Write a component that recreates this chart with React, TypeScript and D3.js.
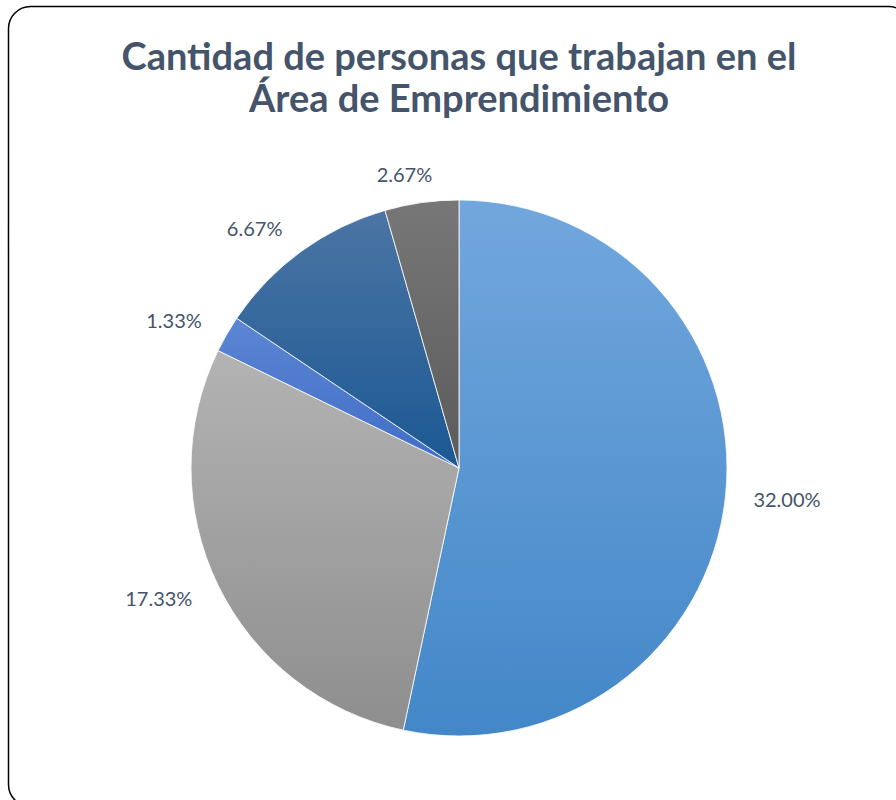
import React, { useEffect, useRef } from 'react';
import * as d3 from 'd3';

// values in reading order, clockwise from 12 o'clock
const labels = ['32.00%', '17.33%', '1.33%', '6.67%', '2.67%'];
const values = [32.0, 17.33, 1.33, 6.67, 2.67];
const topColors = ['#72a7dd', '#b3b3b3', '#5c86d4', '#4b75a4', '#777777'];
const bottomColors = ['#4387c8', '#8e8e8e', '#406dc6', '#1b5893', '#5b5b5b'];
const titleLines = ['Cantidad de personas que trabajan en el', 'Área de Emprendimiento'];

const W = 896;
const H = 800;

export default function App() {
    const ref = useRef<SVGSVGElement>(null);

    useEffect(() => {
        document.body.style.margin = '0';
        const svg = d3.select(ref.current);
        svg.selectAll('*').remove();

        const cx = 459;
        const cy = 468;
        const r = 268;
        const font = 'Lato, "Open Sans", sans-serif';
        const textColor = '#44546a';

        // frame
        svg.append('rect')
            .attr('x', 8.5)
            .attr('y', 6.5)
            .attr('width', 902)
            .attr('height', 800)
            .attr('rx', 22)
            .attr('fill', '#fff')
            .attr('stroke', '#000')
            .attr('stroke-width', 1.5);

        // title
        const title = svg.append('g');
        titleLines.forEach((t, i) => {
            title.append('text')
                .attr('x', cx)
                .attr('y', 70 + i * 42)
                .attr('text-anchor', 'middle')
                .attr('font-family', font)
                .attr('font-weight', 700)
                .attr('font-size', 38)
                .attr('fill', textColor)
                .text(t);
        });

        const defs = svg.append('defs');
        values.forEach((v, i) => {
            const g = defs.append('linearGradient')
                .attr('id', 'grad' + i)
                .attr('x1', 0).attr('y1', 0)
                .attr('x2', 0).attr('y2', 1);
            g.append('stop').attr('offset', '0%').attr('stop-color', topColors[i]);
            g.append('stop').attr('offset', '100%').attr('stop-color', bottomColors[i]);
        });

        const pie = d3.pie<number>().sort(null).value(d => d);
        const arcs = pie(values);
        const arc = d3.arc<d3.PieArcDatum<number>>().innerRadius(0).outerRadius(r);

        const g = svg.append('g').attr('transform', 'translate(' + cx + ',' + cy + ')');
        g.selectAll('path')
            .data(arcs)
            .enter()
            .append('path')
            .attr('d', arc)
            .attr('fill', (d, i) => 'url(#grad' + i + ')')
            .attr('stroke', '#fff')
            .attr('stroke-width', 0.8);

        // labels outside end
        const gap = 22;
        const lw = g.selectAll('text.lbl')
            .data(arcs)
            .enter()
            .append('text')
            .attr('class', 'lbl')
            .attr('text-anchor', 'middle')
            .attr('dominant-baseline', 'central')
            .attr('font-family', font)
            .attr('font-size', 20)
            .attr('fill', textColor)
            .text((d, i) => labels[i]);

        lw.each(function (d) {
            const node = this as SVGTextElement;
            const w = node.getComputedTextLength();
            const a = (d.startAngle + d.endAngle) / 2;
            const sx = Math.sin(a);
            const sy = -Math.cos(a);
            const x = (r + gap) * sx + (w / 2 + 6) * Math.sign(sx) * Math.min(1, Math.abs(sx) * 3);
            const y = (r + gap) * sy + 7 * sy;
            d3.select(node).attr('x', x).attr('y', y);
        });
    }, []);

    return <svg ref={ref} width={W} height={H} style={{ display: 'block' }}></svg>;
}
